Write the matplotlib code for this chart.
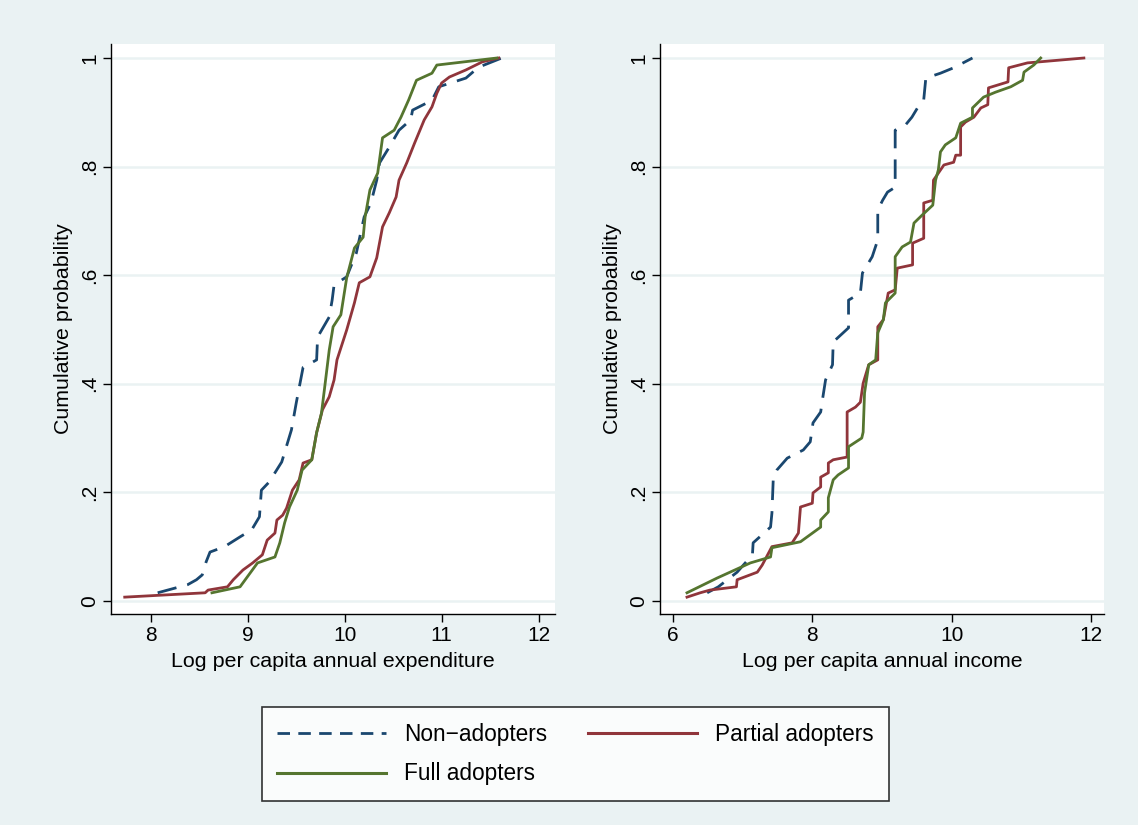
import matplotlib.pyplot as plt
from matplotlib.lines import Line2D

# Left panel: log per capita annual expenditure (x, cumulative prob)
exp_non_x = [8.07, 8.38, 8.47, 8.53, 8.57, 8.61, 8.76, 8.92, 9.04, 9.12, 9.14, 9.22, 9.35, 9.45,
             9.50, 9.57, 9.71, 9.72, 9.84, 9.87, 9.89, 10.02, 10.12, 10.20, 10.27, 10.33, 10.36,
             10.46, 10.56, 10.68, 10.70, 10.90, 10.97, 11.25, 11.38, 11.62]
exp_non_p = [0.015, 0.03, 0.039, 0.048, 0.072, 0.09, 0.10, 0.118, 0.131, 0.155, 0.204, 0.219, 0.256,
             0.315, 0.365, 0.43, 0.444, 0.486, 0.523, 0.554, 0.582, 0.597, 0.641, 0.707, 0.733,
             0.775, 0.807, 0.836, 0.867, 0.886, 0.904, 0.922, 0.947, 0.963, 0.983, 1.0]

exp_part_x = [7.73, 8.56, 8.59, 8.79, 8.85, 8.95, 9.05, 9.15, 9.20, 9.28, 9.30, 9.36, 9.40, 9.46,
              9.53, 9.57, 9.66, 9.71, 9.77, 9.84, 9.89, 9.92, 10.02, 10.10, 10.15, 10.26, 10.33,
              10.39, 10.46, 10.53, 10.56, 10.64, 10.72, 10.82, 10.90, 10.95, 11.00, 11.08, 11.25,
              11.42, 11.59]
exp_part_p = [0.007, 0.015, 0.02, 0.026, 0.039, 0.057, 0.07, 0.085, 0.112, 0.125, 0.149, 0.158,
              0.171, 0.204, 0.223, 0.254, 0.26, 0.31, 0.352, 0.376, 0.407, 0.444, 0.499, 0.549,
              0.586, 0.597, 0.632, 0.689, 0.715, 0.744, 0.775, 0.807, 0.843, 0.886, 0.91, 0.935,
              0.954, 0.965, 0.978, 0.993, 1.0]

exp_full_x = [8.63, 8.92, 9.10, 9.28, 9.33, 9.38, 9.43, 9.51, 9.56, 9.66, 9.71, 9.76, 9.79, 9.84,
              9.88, 9.96, 10.02, 10.10, 10.19, 10.21, 10.26, 10.34, 10.39, 10.51, 10.58, 10.66,
              10.74, 10.90, 10.95, 11.57]
exp_full_p = [0.015, 0.026, 0.07, 0.081, 0.107, 0.144, 0.173, 0.204, 0.241, 0.26, 0.31, 0.346,
              0.389, 0.462, 0.505, 0.527, 0.595, 0.65, 0.67, 0.707, 0.757, 0.788, 0.853, 0.867,
              0.891, 0.923, 0.959, 0.972, 0.987, 1.0]

# Right panel: log per capita annual income
inc_non_x = [6.49, 6.65, 6.92, 7.14, 7.15, 7.40, 7.42, 7.44, 7.49, 7.64, 7.87, 7.97, 8.01, 8.12,
             8.14, 8.19, 8.29, 8.30, 8.52, 8.52, 8.69, 8.72, 8.86, 8.94, 8.94, 9.01, 9.08, 9.19,
             9.19, 9.34, 9.43, 9.51, 9.60, 9.63, 9.84, 10.03, 10.30]
inc_non_p = [0.015, 0.026, 0.053, 0.085, 0.107, 0.136, 0.162, 0.228, 0.241, 0.263, 0.278, 0.293,
             0.328, 0.348, 0.366, 0.407, 0.435, 0.477, 0.503, 0.554, 0.567, 0.604, 0.634, 0.665,
             0.72, 0.738, 0.753, 0.762, 0.867, 0.877, 0.891, 0.908, 0.923, 0.963, 0.972, 0.982, 1.0]

inc_part_x = [6.20, 6.39, 6.53, 6.91, 6.92, 7.21, 7.28, 7.42, 7.71, 7.80, 7.83, 8.00, 8.01, 8.12,
              8.12, 8.23, 8.23, 8.30, 8.50, 8.50, 8.62, 8.69, 8.73, 8.81, 8.94, 8.94, 9.02, 9.09,
              9.19, 9.22, 9.44, 9.44, 9.60, 9.60, 9.73, 9.74, 9.81, 9.89, 10.03, 10.06, 10.13,
              10.13, 10.20, 10.32, 10.42, 10.52, 10.53, 10.81, 10.82, 11.09, 11.90]
inc_part_p = [0.007, 0.015, 0.02, 0.026, 0.039, 0.053, 0.066, 0.10, 0.107, 0.125, 0.173, 0.18,
              0.199, 0.21, 0.228, 0.236, 0.254, 0.26, 0.265, 0.348, 0.357, 0.366, 0.401, 0.435,
              0.444, 0.505, 0.518, 0.567, 0.573, 0.613, 0.619, 0.659, 0.668, 0.733, 0.738, 0.775,
              0.788, 0.803, 0.808, 0.821, 0.821, 0.873, 0.882, 0.891, 0.908, 0.914, 0.945, 0.956,
              0.982, 0.991, 1.0]

inc_full_x = [6.20, 6.63, 7.11, 7.40, 7.42, 7.83, 8.12, 8.12, 8.23, 8.23, 8.30, 8.37, 8.52, 8.52,
              8.71, 8.73, 8.75, 8.81, 8.91, 8.94, 9.02, 9.05, 9.19, 9.19, 9.29, 9.41, 9.46, 9.58,
              9.73, 9.77, 9.81, 9.84, 9.91, 10.06, 10.13, 10.30, 10.30, 10.46, 10.63, 10.85,
              11.02, 11.04, 11.18, 11.28]
inc_full_p = [0.015, 0.042, 0.07, 0.081, 0.098, 0.109, 0.136, 0.149, 0.164, 0.19, 0.223, 0.232,
              0.245, 0.284, 0.30, 0.311, 0.383, 0.435, 0.444, 0.494, 0.518, 0.549, 0.567, 0.634,
              0.652, 0.661, 0.696, 0.711, 0.729, 0.775, 0.794, 0.827, 0.84, 0.853, 0.88, 0.891,
              0.908, 0.928, 0.937, 0.947, 0.959, 0.974, 0.987, 1.0]

y_ticks = [0, 0.2, 0.4, 0.6, 0.8, 1.0]
y_labels = ['0', '.2', '.4', '.6', '.8', '1']

navy = '#1a476f'
maroon = '#90353b'
green = '#55752f'
bg = '#eaf2f3'

plt.rcParams['font.family'] = ['Liberation Sans', 'DejaVu Sans']

fig = plt.figure(figsize=(11.38, 8.25), dpi=100, facecolor=bg)

panels = [
    (0.0975, exp_non_x, exp_non_p, exp_part_x, exp_part_p, exp_full_x, exp_full_p,
     (7.588, 12.167), [8, 9, 10, 11, 12], 'Log per capita annual expenditure'),
    (0.58, inc_non_x, inc_non_p, inc_part_x, inc_part_p, inc_full_x, inc_full_p,
     (5.813, 12.187), [6, 8, 10, 12], 'Log per capita annual income'),
]

for left, nx_, np_, px_, pp_, fx_, fp_, xlim, xticks, xlabel in panels:
    ax = fig.add_axes([left, 0.2558, 0.39, 0.691])
    ax.set_facecolor('white')
    for y in y_ticks:
        ax.axhline(y, color=bg, lw=1.8, zorder=0)
    ax.plot(nx_, np_, color=navy, lw=2.0, dashes=(7, 4))
    ax.plot(px_, pp_, color=maroon, lw=2.0)
    ax.plot(fx_, fp_, color=green, lw=2.0)
    ax.set_xlim(*xlim)
    ax.set_ylim(-0.024, 1.026)
    ax.set_xticks(xticks)
    ax.set_yticks(y_ticks)
    ax.set_yticklabels(y_labels, rotation=90, va='center')
    ax.tick_params(labelsize=15, length=5.5, width=1, color='black', pad=3)
    ax.set_xlabel(xlabel, fontsize=15.4, labelpad=5)
    ax.set_ylabel('Cumulative probability', fontsize=15.4, labelpad=5)
    for side in ['top', 'right']:
        ax.spines[side].set_visible(False)
    for side in ['left', 'bottom']:
        ax.spines[side].set_linewidth(1)

handles = [
    Line2D([], [], color=navy, lw=2, dashes=(4.5, 3)),
    Line2D([], [], color=green, lw=2.2),
    Line2D([], [], color=maroon, lw=2.2),
]
labels = ['Non\u2212adopters', 'Full adopters', 'Partial adopters']
leg = fig.legend(handles, labels, loc='center', bbox_to_anchor=(575.5 / 1138, 1 - 754 / 825),
                 ncol=2, fontsize=16.3, frameon=True, fancybox=False, edgecolor='black',
                 handlelength=4.8, handletextpad=0.8, columnspacing=1.8, borderpad=0.7,
                 labelspacing=0.75, borderaxespad=0)
leg.get_frame().set_linewidth(1.2)

fig.savefig('out.png', dpi=100, facecolor=bg)
